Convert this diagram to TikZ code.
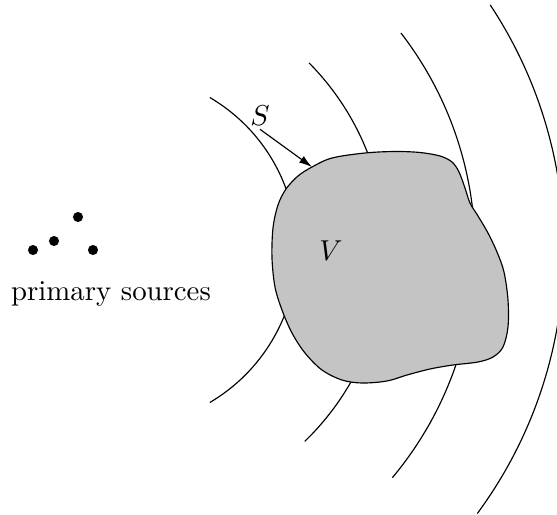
\documentclass[tikz,border=0pt]{standalone}
\usetikzlibrary{arrows.meta}
\begin{document}
\begin{tikzpicture}[x=0.3472pt,y=-0.3472pt,
  wave/.style={line width=0.4pt},
  region/.style={draw, fill=black!23, line width=0.4pt},
  src/.style={circle, fill, inner sep=0pt, minimum size=3.5pt},
  lbl/.style={inner sep=1pt}]
\useasboundingbox (0,0) rectangle (557,515);
\coordinate (O) at (120,250);
% wave fronts
\draw[wave] (O) ++(-59.5:177) arc[start angle=-59.5, end angle=59.5, radius=177];
\draw[wave] (O) ++(-44.7:266) arc[start angle=-44.7, end angle=46, radius=266];
\draw[wave] (O) ++(-37.7:355) arc[start angle=-37.7, end angle=39.9, radius=355];
\draw[wave] (O) ++(-33.5:444) arc[start angle=-33.5, end angle=36.4, radius=444];
% region V
\draw[region] plot[smooth cycle, tension=0.55] coordinates {
 (312,167) (332,158) (365,153) (395,151.5) (420,152.5) (440,156) (452,162)
 (459,172) (465,188) (470,203) (478,216) (488,233) (497,252) (504,272)
 (508,300) (508,327) (503,347) (493,357) (478,362) (453,365) (430,369)
 (407,375) (387,381) (362,383) (342,380) (322,370) (305,353) (292,333)
 (282,310) (275,287) (272,258) (273,228) (278,205) (286,189) (298,176)};
\coordinate (tip) at (312,167);
\node[lbl] (V) at (331,251) {$V$};
\node[lbl] (S) at (260,116) {$S$};
\draw[-{Latex[length=4.5pt,width=2.8pt]}] (S.south) -- (tip);
% primary sources
\node[src] (s1) at (33,250) {};
\node[src] (s2) at (54,241) {};
\node[src] (s3) at (78,217) {};
\node[src] (s4) at (93,250) {};
\node[anchor=base] (ps) at (111,300) {primary sources};
\end{tikzpicture}
\end{document}
